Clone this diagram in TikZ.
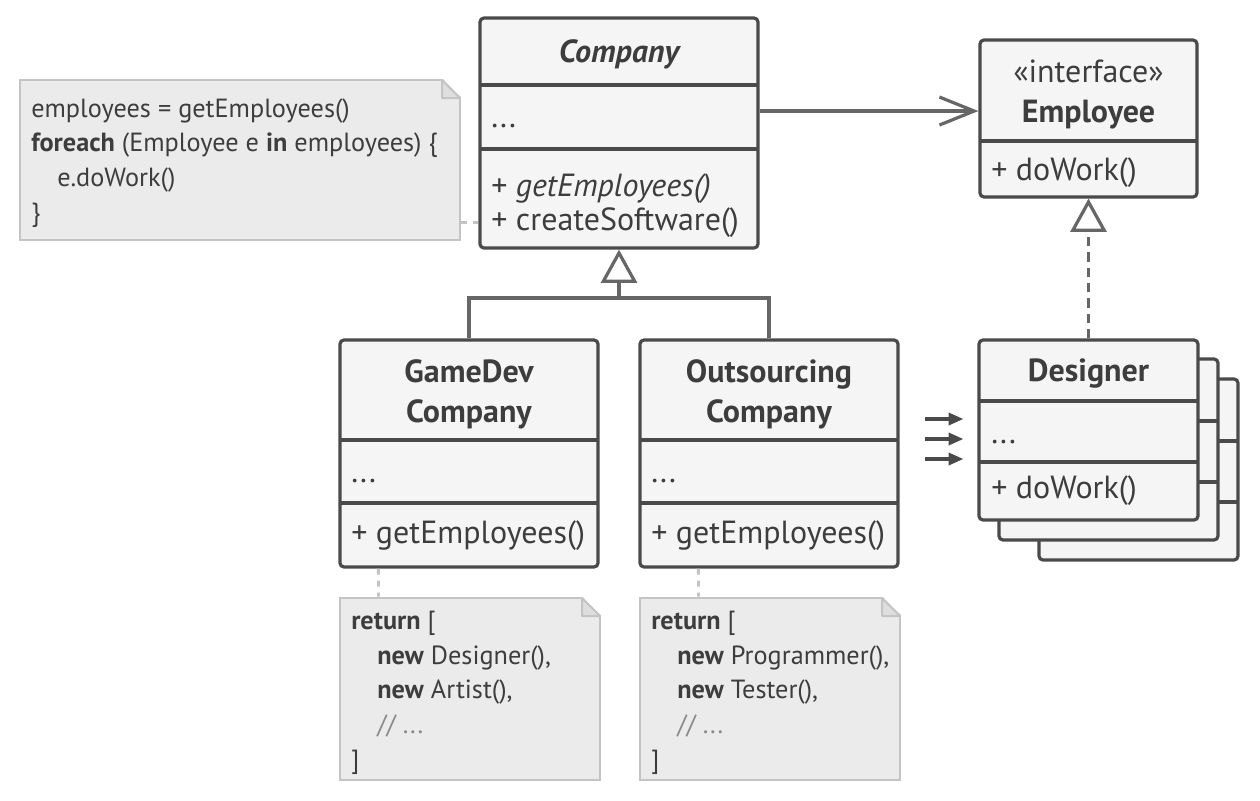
\documentclass[tikz,border=0pt]{standalone}
\usepackage{fontspec}
\setmainfont{PT Sans}
\usetikzlibrary{arrows.meta,calc}

\definecolor{boxline}{HTML}{4A4A4A}
\definecolor{boxfill}{HTML}{F5F5F5}
\definecolor{inktext}{HTML}{3D3D3D}
\definecolor{linkgray}{HTML}{666666}
\definecolor{notefill}{HTML}{EBEBEB}
\definecolor{notegray}{HTML}{C4C4C4}
\definecolor{foldfill}{HTML}{DEDEDE}
\definecolor{commentgray}{HTML}{8A8A8A}

\newcommand{\px}{0.75pt}

\tikzset{
  classbox/.style={draw=boxline, fill=boxfill, line width=2.4pt, rounded corners=3pt, inner sep=0pt},
  divider/.style={draw=boxline, line width=2.6pt},
  member/.style={anchor=base west, inner sep=0pt, text=inktext, font=\fontsize{24}{30}\selectfont},
  classname/.style={anchor=base, inner sep=0pt, text=inktext, font=\fontsize{24}{30}\selectfont\bfseries},
  notebox/.style={draw=notegray, fill=notefill, line width=2.2pt, inner sep=0pt},
  notefold/.style={draw=notegray, fill=foldfill, line width=1.5pt, line join=round},
  notetext/.style={anchor=base west, inner sep=0pt, align=left, text=inktext, font=\fontsize{19.7}{26}\selectfont},
  notelink/.style={draw=notegray, line width=2.2pt, dash pattern=on 4.5pt off 4.5pt},
  association/.style={draw=linkgray, line width=2.4pt, -{Straight Barb[length=26pt, width=21pt]}},
  generalize/.style={draw=linkgray, line width=2.4pt, -{Triangle[open, length=25pt, width=27pt]}},
  branch/.style={draw=linkgray, line width=2.4pt},
  realize/.style={generalize, dash pattern=on 7pt off 4.5pt},
  flow/.style={draw=boxline, line width=2.4pt, -{Triangle[length=11pt, width=9pt]}},
}

\begin{document}
\begin{tikzpicture}[x=\px, y=-\px]
\fill[white] (0,0) rectangle (1260,800);
\useasboundingbox (0,0) rectangle (1260,800);

% note of Company
\node[notebox, minimum width=440*\px, minimum height=160*\px] (note) at (240,160) {};
\fill[white] (441,77) -- (463,77) -- (463,99) -- cycle;
\draw[notefold] (442,80) -- (460,98) -- (442,98) -- cycle;
% (base = last line of the text)
\node[notetext] (note-code) at (31,221) {employees = getEmployees()\\
  \textbf{foreach} (Employee e \textbf{in} employees) \{\\
  \hspace*{19.5pt}e.doWork()\\
  \}};

% Company
\node[classbox, minimum width=278*\px, minimum height=230*\px] (company) at (619,133) {};
\draw[divider] (480,85) -- (758,85);
\draw[divider] (480,149) -- (758,149);
\node[classname, font=\fontsize{24}{30}\selectfont\bfseries\itshape] (company-name) at (619,62) {Company};
\node[member] (company-attr) at (491,127) {...};
\node[member] (company-get) at (491,196) {+ \textit{getEmployees()}};
\node[member] (company-create) at (491,230) {+ createSoftware()};

% Employee
\node[classbox, minimum width=217*\px, minimum height=157*\px] (employee) at (1088.5,118.5) {};
\draw[divider] (980,141) -- (1197,141);
\node[classname, font=\fontsize{24}{30}\selectfont] (employee-stereo) at (1088.5,82) {«interface»};
\node[classname] (employee-name) at (1088.5,122) {Employee};
\node[member] (employee-work) at (991,180) {+ doWork()};

% GameDev Company
\node[classbox, minimum width=258*\px, minimum height=227*\px] (gamedev) at (469,453.5) {};
\draw[divider] (340,440) -- (598,440);
\draw[divider] (340,503) -- (598,503);
\node[classname, align=center] (gamedev-name) at (469,422) {GameDev\\Company};
\node[member] (gamedev-attr) at (351,482) {...};
\node[member] (gamedev-get) at (351,543) {+ getEmployees()};

% Outsourcing Company
\node[classbox, minimum width=258*\px, minimum height=227*\px] (outsourcing) at (769,453.5) {};
\draw[divider] (640,440) -- (898,440);
\draw[divider] (640,503) -- (898,503);
\node[classname, align=center] (outsourcing-name) at (769,422) {Outsourcing\\Company};
\node[member] (outsourcing-attr) at (651,482) {...};
\node[member] (outsourcing-get) at (651,543) {+ getEmployees()};

% Designer (stack of objects)
\node[classbox, minimum width=199*\px, minimum height=181*\px] (designer-back2) at (1138.5,469.5) {};
\draw[divider] (1039,441) -- (1238,441);
\draw[divider] (1039,502) -- (1238,502);
\node[classbox, minimum width=219*\px, minimum height=181*\px] (designer-back1) at (1108.5,449.5) {};
\draw[divider] (999,421) -- (1218,421);
\draw[divider] (999,482) -- (1218,482);
\node[classbox, minimum width=219*\px, minimum height=180*\px] (designer) at (1088.5,430) {};
\draw[divider] (979,401) -- (1198,401);
\draw[divider] (979,462) -- (1198,462);
\node[classname] (designer-name) at (1088.5,381) {Designer};
\node[member] (designer-attr) at (991,443) {...};
\node[member] (designer-work) at (991,498) {+ doWork()};

% notes of the subclasses
\node[notebox, minimum width=260*\px, minimum height=182*\px] (gamedev-note) at (470,689) {};
\fill[white] (581,595) -- (603,595) -- (603,617) -- cycle;
\draw[notefold] (582,598) -- (600,616) -- (582,616) -- cycle;
\node[notetext] (gamedev-code) at (351,768) {\textbf{return} [\\
  \hspace*{19.5pt}\textbf{new} Designer(),\\
  \hspace*{19.5pt}\textbf{new} Artist(),\\
  \hspace*{19.5pt}\textcolor{commentgray}{// ...}\\
  ]};

\node[notebox, minimum width=260*\px, minimum height=182*\px] (outsourcing-note) at (770,689) {};
\fill[white] (881,595) -- (903,595) -- (903,617) -- cycle;
\draw[notefold] (882,598) -- (900,616) -- (882,616) -- cycle;
\node[notetext] (outsourcing-code) at (651,768) {\textbf{return} [\\
  \hspace*{19.5pt}\textbf{new} Programmer(),\\
  \hspace*{19.5pt}\textbf{new} Tester(),\\
  \hspace*{19.5pt}\textcolor{commentgray}{// ...}\\
  ]};

% connectors
\draw[notelink] (note.east |- company-create) -- (company.west |- company-create);
\draw[notelink] ($(gamedev.south west)+(40,0)$) -- ($(gamedev-note.north west)+(40,0)$);
\draw[notelink] ($(outsourcing.south west)+(60,0)$) -- ($(outsourcing-note.north west)+(60,0)$);

\path ([yshift=5.6pt]employee.west) coordinate (assoc-end);
\draw[association] (company.east |- assoc-end) -- (assoc-end);

\coordinate (split) at (619,298);
\draw[generalize] (gamedev.north) |- (split) -- (company.south);
\draw[branch] (outsourcing.north) |- (split);

\draw[realize] (designer.north) -- (employee.south);

\foreach \y [count=\i] in {419,439,459} {
  \coordinate (flow-\i) at (925,\y);
  \draw[flow, shorten >=10.5pt] (flow-\i) -- (designer.west |- flow-\i);
}
\end{tikzpicture}
\end{document}
